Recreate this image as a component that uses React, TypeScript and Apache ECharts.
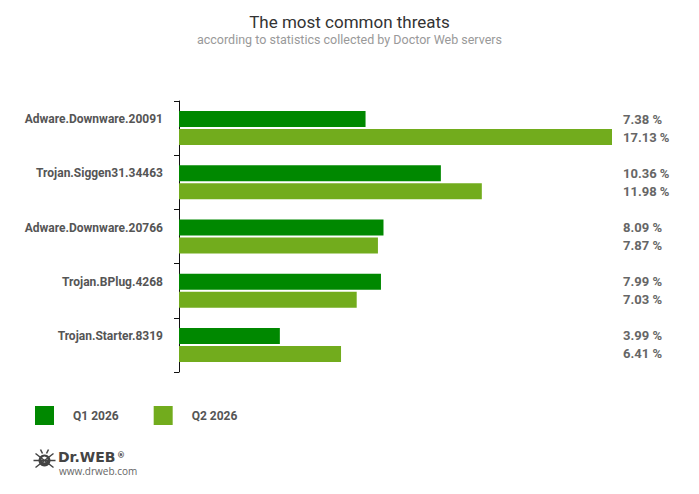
import React, { useEffect, useRef } from "react";
import * as echarts from "echarts";

const categories = [
  "Adware.Downware.20091",
  "Trojan.Siggen31.34463",
  "Adware.Downware.20766",
  "Trojan.BPlug.4268",
  "Trojan.Starter.8319",
];
const seriesNames = ["Q1 2026", "Q2 2026"];
const q1Values = [7.38, 10.36, 8.09, 7.99, 3.99];
const q2Values = [17.13, 11.98, 7.87, 7.03, 6.41];
const titleText = "The most common threats";
const subtitleText = "according to statistics collected by Doctor Web servers";

const FONT = "Roboto, 'Noto Sans', sans-serif";

export default function App() {
  const ref = useRef<HTMLDivElement>(null);
  useEffect(() => {
    if (!ref.current) return;
    const chart = echarts.init(ref.current, null, { renderer: "svg" });
    const valueLabel = {
      show: true,
      position: [444, "50%"],
      align: "left",
      verticalAlign: "middle",
      color: "#666",
      fontWeight: "bold",
      fontSize: 13,
      fontFamily: FONT,
      formatter: (p: any) => Number(p.value).toFixed(2) + " %",
    };
    chart.setOption({
      animation: false,
      backgroundColor: "#fff",
      title: {
        text: titleText,
        subtext: subtitleText,
        left: "center",
        top: 8,
        itemGap: 3,
        textStyle: { fontSize: 17, fontWeight: "normal", color: "#333", fontFamily: FONT },
        subtextStyle: { fontSize: 12.5, color: "#999", fontFamily: FONT },
      },
      legend: {
        left: 35,
        top: 406,
        padding: 0,
        itemWidth: 19,
        itemHeight: 19,
        itemGap: 35,
        icon: "rect",
        data: seriesNames,
        textStyle: {
          color: "#555",
          fontWeight: "bold",
          fontSize: 12,
          fontFamily: FONT,
          padding: [0, 0, 0, 14],
        },
      },
      grid: { left: 179, right: 87, top: 101, bottom: 122, containLabel: false },
      xAxis: {
        type: "value",
        min: 0,
        max: 17.13,
        show: false,
      },
      yAxis: {
        type: "category",
        data: categories,
        inverse: true,
        offset: 2,
        axisLine: { show: true, lineStyle: { color: "#111", width: 1 } },
        axisTick: { show: true, length: 5, lineStyle: { color: "#111" } },
        axisLabel: {
          margin: 14,
          color: "#555",
          fontWeight: "bold",
          fontSize: 12,
          fontFamily: FONT,
          lineHeight: 18,
          formatter: (v: string) => v + "\n ",
        },
        splitLine: { show: false },
      },
      series: [
        {
          name: seriesNames[0],
          type: "bar",
          data: q1Values,
          barWidth: 16,
          barGap: "12.5%",
          itemStyle: { color: "#008800" },
          label: valueLabel,
        },
        {
          name: seriesNames[1],
          type: "bar",
          data: q2Values,
          barWidth: 16,
          barGap: "12.5%",
          itemStyle: { color: "#72ac1d" },
          label: valueLabel,
        },
      ],
      graphic: [
        {
          type: "group",
          left: 31,
          top: 447,
          children: [
            { type: "circle", shape: { cx: 11, cy: 11, r: 6 }, style: { fill: "#444" } },
            { type: "circle", shape: { cx: 11, cy: 10, r: 3 }, style: { fill: "#fff" } },
            { type: "line", shape: { x1: 2, y1: 4, x2: 20, y2: 18 }, style: { stroke: "#444", lineWidth: 1.5 } },
            { type: "line", shape: { x1: 20, y1: 4, x2: 2, y2: 18 }, style: { stroke: "#444", lineWidth: 1.5 } },
            { type: "line", shape: { x1: 0, y1: 11, x2: 22, y2: 11 }, style: { stroke: "#444", lineWidth: 1.5 } },
            { type: "line", shape: { x1: 7, y1: 0, x2: 9, y2: 4 }, style: { stroke: "#444", lineWidth: 1.5 } },
            { type: "line", shape: { x1: 15, y1: 0, x2: 13, y2: 4 }, style: { stroke: "#444", lineWidth: 1.5 } },
          ],
        },
        {
          type: "text",
          left: 58,
          top: 450,
          style: { text: "Dr.WEB", fill: "#444", font: "bold 14px 'DejaVu Sans', sans-serif" },
        },
        {
          type: "text",
          left: 117,
          top: 451,
          style: { text: "®", fill: "#444", font: "bold 8px 'DejaVu Sans', sans-serif" },
        },
        {
          type: "text",
          left: 59,
          top: 466,
          style: { text: "www.drweb.com", fill: "#666", font: "10px 'Open Sans', sans-serif" },
        },
      ],
    });
    return () => chart.dispose();
  }, []);
  return <div ref={ref} style={{ width: 699, height: 494, margin: -8 }} />;
}
